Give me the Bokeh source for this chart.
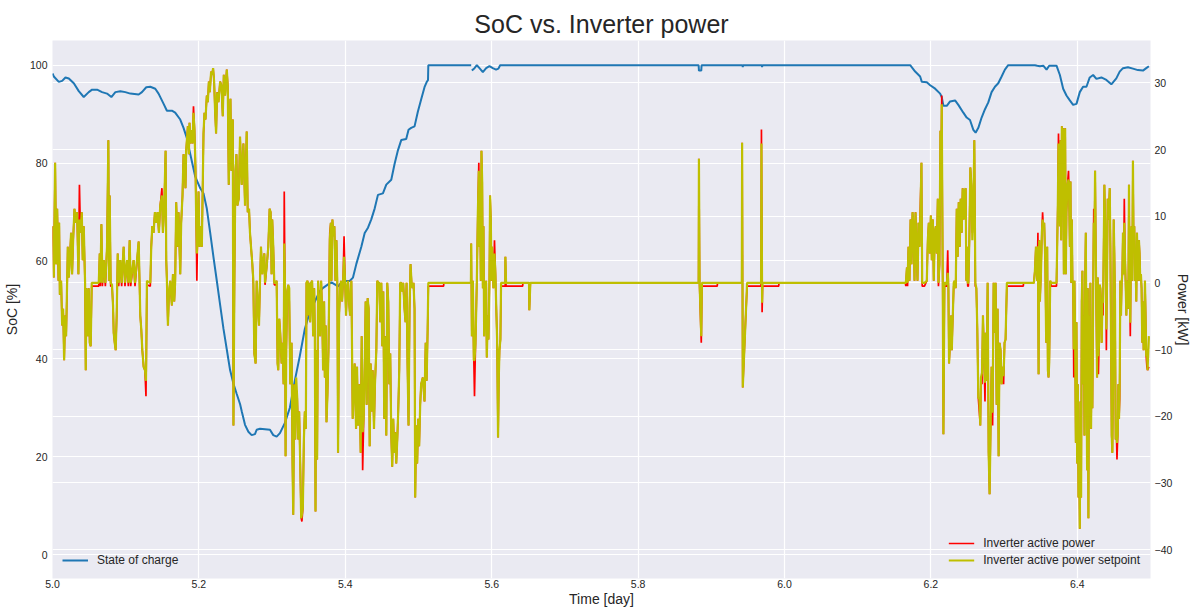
import numpy as np
from bokeh.plotting import figure
from bokeh.models import (Range1d, LinearAxis, FixedTicker, Grid, Legend,
                          LegendItem, ColumnDataSource)
from bokeh.embed import file_html
from bokeh.resources import INLINE

FONT = "Liberation Sans"
TEXT = "#262626"

# ---------------- axis ticks ----------------
x_ticks = [5.0, 5.2, 5.4, 5.6, 5.8, 6.0, 6.2, 6.4]
x_tick_labels = ["5.0", "5.2", "5.4", "5.6", "5.8", "6.0", "6.2", "6.4"]
soc_ticks = [0, 20, 40, 60, 80, 100]
power_ticks = [-40, -30, -20, -10, 0, 10, 20, 30]
power_tick_labels = ["\u221240", "\u221230", "\u221220", "\u221210", "0", "10", "20", "30"]

# ---------------- state of charge [%] ----------------
soc_time = [
    5.0000, 5.0018, 5.0086, 5.0132, 5.0177, 5.0223, 5.0291, 5.0359, 5.0427, 5.0495,
    5.0541, 5.0609, 5.0677, 5.0745, 5.0804, 5.0859, 5.0927, 5.0995, 5.1063, 5.1177,
    5.1222, 5.1281, 5.1336, 5.1404, 5.1449, 5.1518, 5.1563, 5.1631, 5.1676, 5.1745,
    5.1790, 5.1836, 5.1881, 5.1949, 5.2017, 5.2063, 5.2108, 5.2154, 5.2199, 5.2245,
    5.2290, 5.2336, 5.2381, 5.2426, 5.2472, 5.2517, 5.2563, 5.2585, 5.2630, 5.2676,
    5.2721, 5.2766, 5.2789, 5.2835, 5.2903, 5.2971, 5.3016, 5.3062, 5.3107, 5.3175,
    5.3243, 5.3311, 5.3379, 5.3447, 5.3516, 5.3584, 5.3652, 5.3697, 5.3765, 5.3811,
    5.3856, 5.3901, 5.3947, 5.3992, 5.4060, 5.4105, 5.4151, 5.4219, 5.4265, 5.4310,
    5.4355, 5.4401, 5.4446, 5.4514, 5.4560, 5.4628, 5.4673, 5.4719, 5.4764, 5.4832,
    5.4864, 5.4900, 5.4946, 5.4991, 5.5036, 5.5082, 5.5110, 5.5130, 5.5134, 5.5720,
    5.5725, 5.5729, 5.5765, 5.5797, 5.5833, 5.5879, 5.5924, 5.5969, 5.6015, 5.6060,
    5.6092, 5.6115, 5.8827, 5.8831, 5.8863, 5.8867, 5.9426, 5.9430, 5.9434, 5.9690,
    5.9694, 5.9698, 6.1717, 6.1785, 6.1853, 6.1876, 6.1944, 6.1990, 6.2058, 6.2126,
    6.2148, 6.2171, 6.2217, 6.2262, 6.2330, 6.2375, 6.2443, 6.2489, 6.2534, 6.2580,
    6.2611, 6.2648, 6.2693, 6.2739, 6.2784, 6.2829, 6.2875, 6.2920, 6.2966, 6.3011,
    6.3056, 6.3421, 6.3453, 6.3489, 6.3535, 6.3580, 6.3616, 6.3716, 6.3762, 6.3807,
    6.3852, 6.3898, 6.3943, 6.3989, 6.4034, 6.4079, 6.4125, 6.4170, 6.4216, 6.4261,
    6.4329, 6.4397, 6.4465, 6.4533, 6.4579, 6.4624, 6.4692, 6.4760, 6.4828, 6.4897,
    6.4942, 6.4978,
]
soc_pct = [
    98.3, 97.7, 96.6, 96.8, 97.5, 97.3, 96.3, 94.7, 93.5, 94.5,
    95.0, 95.0, 94.5, 94.2, 93.5, 94.5, 94.7, 94.5, 94.2, 94.0,
    94.5, 95.5, 95.6, 95.2, 94.2, 92.1, 90.7, 90.7, 90.3, 88.9,
    87.2, 85.1, 81.9, 77.3, 74.9, 73.8, 70.7, 65.8, 60.8, 55.9,
    51.0, 46.1, 41.9, 37.7, 34.9, 32.8, 30.7, 29.3, 26.5, 25.1,
    24.4, 24.6, 25.5, 25.7, 25.6, 25.5, 24.4, 24.1, 24.8, 26.9,
    30.0, 35.6, 40.6, 46.1, 49.6, 51.7, 53.8, 54.5, 55.2, 55.6,
    55.2, 54.8, 55.6, 55.9, 55.9, 56.6, 59.4, 62.9, 65.7, 66.8,
    68.5, 70.7, 73.5, 73.8, 75.6, 76.6, 79.8, 82.6, 84.7, 84.9,
    86.8, 87.2, 87.5, 90.5, 93.0, 95.5, 96.5, 97.0, 100.0, 100.0,
    float("nan"), 98.9, 99.4, 100.0, 99.4, 98.6, 99.4, 99.8, 99.4, 99.1,
    99.3, 100.0, 100.0, 98.9, 98.9, 100.0, 100.0, 99.6, 100.0, 100.0,
    99.6, 100.0, 100.0, 98.7, 97.7, 96.6, 96.5, 95.9, 95.2, 94.2,
    93.5, 91.7, 91.7, 92.6, 92.8, 91.9, 90.3, 89.3, 88.8, 86.8,
    86.2, 87.2, 89.3, 91.0, 92.4, 94.5, 95.6, 96.3, 97.7, 99.1,
    100.0, 100.0, 99.9, 99.8, 99.9, 99.1, 99.9, 99.9, 98.0, 95.2,
    93.8, 92.8, 91.9, 92.1, 94.5, 95.6, 95.6, 97.5, 98.0, 97.2,
    97.5, 97.0, 96.1, 97.3, 98.7, 99.4, 99.6, 99.3, 99.0, 98.9,
    99.4, 99.8,
]

# ---------------- inverter power [kW], read segment by segment ----------------
time_a = [
    5.0000, 5.0009, 5.0018, 5.0036, 5.0050, 5.0064, 5.0082, 5.0091, 5.0100, 5.0118,
    5.0132, 5.0145, 5.0159, 5.0173, 5.0186, 5.0200, 5.0209, 5.0223, 5.0236, 5.0254,
    5.0268, 5.0282, 5.0300, 5.0318, 5.0336, 5.0354, 5.0368, 5.0382, 5.0400, 5.0413,
    5.0427, 5.0445, 5.0454, 5.0463, 5.0482, 5.0495, 5.0509, 5.0522, 5.0536, 5.0632,
    5.0645, 5.0654, 5.0668, 5.0682, 5.0700, 5.0722, 5.0745, 5.0763, 5.0772, 5.0781,
    5.0795, 5.0813, 5.0827, 5.0836, 5.0850, 5.0863, 5.0877, 5.0891, 5.0904, 5.0927,
    5.0945, 5.0972, 5.0990, 5.1018, 5.1036, 5.1054, 5.1068, 5.1108, 5.1127, 5.1177,
    5.1190, 5.1199, 5.1213, 5.1227, 5.1245, 5.1263, 5.1277, 5.1290, 5.1336, 5.1349,
    5.1363, 5.1381, 5.1399, 5.1417, 5.1436, 5.1454, 5.1472, 5.1495, 5.1508, 5.1527,
    5.1545, 5.1554, 5.1563, 5.1577, 5.1590, 5.1608, 5.1631, 5.1645, 5.1663, 5.1676,
    5.1690, 5.1708, 5.1722, 5.1745, 5.1758, 5.1776, 5.1790, 5.1804, 5.1817, 5.1826,
    5.1836, 5.1849, 5.1863, 5.1872, 5.1885, 5.1899, 5.1913, 5.1926, 5.1940, 5.1954,
    5.1963, 5.1972, 5.1981, 5.1995, 5.2008, 5.2026, 5.2040, 5.2054, 5.2063, 5.2076,
    5.2090, 5.2108, 5.2122, 5.2136, 5.2149, 5.2167, 5.2181, 5.2194, 5.2208, 5.2222,
    5.2235, 5.2249, 5.2267, 5.2290, 5.2308, 5.2326, 5.2340, 5.2358, 5.2381, 5.2394,
    5.2408, 5.2417, 5.2431, 5.2444, 5.2463, 5.2472, 5.2485, 5.2499, 5.2513, 5.2526,
    5.2544,
]
setpoint_a = [
    8.5, 5.4, 0.8, 18.0, 2.8, 11.1, 0.3, 9.0, -1.8, 0.3,
    -6.4, -3.9, -11.6, -4.9, -8.0, 0.3, 5.4, 0.8, 3.4, 7.5,
    1.3, 6.4, 11.1, 9.0, 10.6, 1.3, 9.5, 7.5, 10.6, 3.4,
    8.5, 0.0, -13.1, -0.8, -8.0, -0.8, -9.0, -9.5, 0.0, 0.0,
    4.4, 0.0, 8.8, 0.0, 3.4, 0.0, 5.4, 21.4, 0.3, 13.1,
    0.0, -0.3, -3.4, -7.5, -9.0, -10.1, -4.9, 4.4, 0.0, 3.4,
    0.0, 5.4, 0.0, 3.4, 0.0, 6.4, 0.0, 3.4, 0.0, 6.2,
    0.0, -4.9, -7.0, -10.1, -12.6, -13.1, -14.7, 0.3, 0.0, 5.4,
    8.5, 7.5, 10.6, 9.0, 10.6, 7.5, 11.6, 13.1, 7.5, 11.6,
    19.8, 3.4, 0.3, -6.4, -1.8, 0.3, -3.4, 1.3, -2.8, 0.3,
    12.1, 5.4, 10.6, 1.3, 9.0, 13.1, 19.3, 17.8, 14.2, 19.8,
    21.4, 23.5, 19.3, 24.0, 20.9, 22.9, 20.9, 25.5, 22.9, 16.8,
    9.5, 4.4, 6.4, 13.7, 5.4, 8.5, 5.4, 15.7, 22.4, 25.5,
    24.5, 28.1, 27.1, 30.2, 28.6, 31.7, 31.2, 32.2, 30.2, 25.5,
    22.4, 28.6, 27.1, 30.2, 29.6, 25.0, 31.2, 28.1, 32.0, 29.6,
    14.7, 20.9, 27.6, 16.8, 24.5, -21.4, 0.3, 16.8, 19.3, 11.6,
    12.6,
]
active_a = [
    8.5, 5.4, 0.8, 18.0, 2.8, 11.1, 0.3, 9.0, -1.8, 0.3,
    -6.4, -3.9, -11.6, -4.9, -8.0, -0.5, 5.4, 0.8, 3.4, 7.5,
    1.3, 6.4, 11.1, 9.0, 10.6, 1.3, 14.7, 7.5, 10.6, 3.4,
    8.5, -0.5, -13.1, -0.8, -8.0, -0.8, -9.0, -9.5, -0.5, -0.5,
    4.4, -0.5, 8.8, -0.5, 3.4, -0.5, 5.4, 21.4, 0.3, 13.1,
    -0.5, -0.5, -3.4, -7.5, -9.0, -10.1, -4.9, 4.4, -0.5, 3.4,
    -0.5, 5.4, -0.5, 3.4, -0.5, 6.4, -0.5, 3.4, -0.5, 6.2,
    -0.5, -4.9, -7.0, -10.1, -12.6, -13.1, -17.0, -0.3, -0.5, 5.4,
    8.5, 7.5, 10.6, 9.0, 10.6, 7.5, 11.6, 14.2, 7.5, 11.6,
    19.8, 3.4, 0.3, -6.4, -1.8, 0.3, -3.4, 1.3, -2.8, 0.3,
    12.1, 5.4, 10.6, 1.3, 9.0, 13.1, 19.3, 17.8, 14.2, 19.8,
    21.4, 23.5, 19.3, 24.0, 20.9, 22.9, 20.9, 26.5, 22.9, 16.8,
    9.5, 0.3, 6.4, 13.7, 5.4, 8.5, 5.4, 15.7, 22.4, 25.5,
    24.5, 28.1, 27.1, 30.2, 28.6, 31.7, 31.2, 32.2, 30.2, 25.5,
    22.4, 28.6, 27.1, 30.2, 29.6, 25.0, 31.2, 28.1, 32.0, 29.6,
    14.7, 20.9, 27.6, 16.8, 24.5, -21.4, 0.3, 16.8, 19.3, 11.6,
    12.6,
]

time_b = [
    5.2562, 5.2585, 5.2608, 5.2630, 5.2653, 5.2667, 5.2685, 5.2698, 5.2712, 5.2730,
    5.2744, 5.2757, 5.2775, 5.2789, 5.2803, 5.2821, 5.2835, 5.2848, 5.2866, 5.2880,
    5.2894, 5.2903, 5.2925, 5.2948, 5.2966, 5.2980, 5.2993, 5.3002, 5.3016, 5.3030,
    5.3048, 5.3062, 5.3075, 5.3084, 5.3098, 5.3111, 5.3130, 5.3143, 5.3157, 5.3166,
    5.3175, 5.3184, 5.3193, 5.3207, 5.3220, 5.3234, 5.3248, 5.3266, 5.3279, 5.3289,
    5.3302, 5.3316, 5.3329, 5.3343, 5.3357, 5.3370, 5.3384, 5.3397, 5.3407, 5.3420,
    5.3434, 5.3447, 5.3461, 5.3470, 5.3484, 5.3493, 5.3506, 5.3520, 5.3534, 5.3547,
    5.3561, 5.3575, 5.3584, 5.3593, 5.3602, 5.3615, 5.3629, 5.3643, 5.3656, 5.3670,
    5.3683, 5.3697, 5.3711, 5.3720, 5.3733, 5.3743, 5.3756, 5.3770, 5.3788, 5.3802,
    5.3811, 5.3824, 5.3838, 5.3851, 5.3865, 5.3879, 5.3892, 5.3901, 5.3915, 5.3929,
    5.3942, 5.3956, 5.3970, 5.3983, 5.3997, 5.4010, 5.4024, 5.4038, 5.4051, 5.4065,
    5.4083, 5.4101, 5.4115, 5.4128, 5.4147, 5.4160, 5.4174, 5.4192, 5.4210, 5.4224,
    5.4237, 5.4251, 5.4265, 5.4278, 5.4292, 5.4305, 5.4319, 5.4333, 5.4346, 5.4360,
    5.4374, 5.4392, 5.4405, 5.4424, 5.4437, 5.4451, 5.4464, 5.4478, 5.4492, 5.4505,
    5.4519, 5.4532, 5.4546, 5.4560, 5.4573, 5.4587, 5.4601, 5.4614, 5.4628, 5.4641,
    5.4655, 5.4669, 5.4682, 5.4696, 5.4710, 5.4723, 5.4737, 5.4750, 5.4764, 5.4778,
    5.4791, 5.4809, 5.4823, 5.4837, 5.4850, 5.4864, 5.4878, 5.4891, 5.4905, 5.4918,
    5.4932, 5.4946, 5.4955, 5.4968, 5.4982, 5.4996, 5.5009, 5.5023, 5.5036, 5.5059,
    5.5082,
]
setpoint_b = [
    21.9, 14.7, 20.9, 11.6, 22.7, 10.6, 11.1, 7.5, 5.4, 2.8,
    0.3, -10.6, -12.1, 0.3, -2.8, -6.4, 0.3, 5.4, 1.3, 3.4,
    4.4, 0.0, 2.3, 5.4, 11.1, 10.6, 1.3, 9.5, 5.4, 0.0,
    0.0, 0.3, -12.1, -13.1, -5.4, -7.5, -12.1, -9.0, -15.2, 5.9,
    0.0, -26.0, -10.1, -1.3, -0.3, -0.8, -15.2, -9.0, -27.1, -34.8,
    -15.2, -23.5, -14.2, -17.3, -23.5, -19.3, -27.1, -35.3, -34.8, -33.8,
    -23.5, -19.3, -21.9, 0.0, 0.3, -4.9, 0.0, -5.9, 0.0, 0.3,
    -8.0, -0.8, -8.0, -34.3, -10.1, -26.5, 0.3, -3.9, -8.0, 0.3,
    -3.9, -13.1, -2.8, -14.2, -6.4, -20.9, -16.8, -10.1, 6.4, 9.0,
    0.3, 9.5, 7.0, 8.5, 0.3, 6.4, -0.8, -25.5, -4.9, -0.8,
    0.3, -2.8, 0.3, 3.9, 0.3, -4.9, -0.8, 0.3, -2.8, -4.9,
    0.3, -20.4, -16.2, -12.1, -21.9, -12.6, -21.4, -15.2, -25.5, -8.0,
    -22.4, -20.4, -12.6, -2.8, -18.3, -2.3, -3.9, -24.5, -12.1, -19.3,
    -13.1, -21.9, -15.2, -10.1, 0.3, 0.0, 0.0, -5.9, 0.0, -9.5,
    -1.3, -20.4, -8.0, -22.9, 0.0, -2.8, -15.2, -10.6, -22.9, -27.6,
    -20.4, -25.5, -22.4, -27.1, -23.5, -19.3, -13.1, 0.0, 0.0, -1.3,
    0.0, -3.9, -5.9, 0.0, -12.1, -21.4, -3.9, 2.8, 0.0, -0.8,
    0.0, -3.9, -32.2, -21.4, -27.1, -20.4, -24.5, -18.3, -15.2, -14.2,
    -17.8,
]
active_b = [
    21.9, 14.7, 20.9, 11.6, 22.7, 10.6, 11.1, 7.5, 5.4, 2.8,
    -0.3, -10.6, -12.1, 0.3, -2.8, -6.4, 0.3, 5.4, 1.3, 3.4,
    4.4, -0.3, 2.3, 5.4, 11.1, 10.6, 1.3, 9.5, 5.4, -0.3,
    -0.3, 0.3, -12.1, -13.1, -5.4, -7.5, -12.1, -9.0, -15.2, 13.7,
    0.0, -26.0, -10.1, -1.3, -0.3, -2.8, -15.2, -9.0, -27.1, -34.8,
    -15.2, -23.5, -16.0, -17.3, -23.5, -19.3, -27.1, -35.3, -35.8, -33.8,
    -23.5, -19.3, -21.9, 0.0, 0.3, -4.9, 0.0, -5.9, 0.0, 0.3,
    -8.0, -0.8, -8.0, -34.3, -10.1, -26.5, 0.3, -3.9, -8.0, 0.3,
    -3.9, -13.1, -2.8, -14.2, -6.4, -20.9, -16.8, -10.1, 7.5, 9.0,
    0.3, 9.5, 7.0, 8.5, 0.3, 6.4, -0.8, -25.5, -4.9, -0.8,
    0.3, -2.8, 0.3, 7.0, 0.3, -4.9, -0.8, 0.3, -2.8, -4.9,
    0.3, -20.4, -16.2, -12.1, -21.9, -12.6, -21.4, -15.2, -25.5, -8.0,
    -28.1, -20.4, -12.6, -2.8, -18.3, -2.3, -3.9, -24.5, -12.1, -19.3,
    -13.1, -21.9, -15.2, -10.1, 0.3, 0.0, 0.0, -5.9, 0.0, -9.5,
    -1.3, -20.4, -8.0, -22.9, 0.0, -2.8, -15.2, -10.6, -22.9, -27.6,
    -20.4, -25.5, -22.4, -27.1, -23.5, -19.3, -13.1, 0.0, 0.0, -1.3,
    0.0, -3.9, -5.9, 0.0, -12.1, -21.4, -3.9, 2.8, 0.0, -0.8,
    0.0, -3.9, -32.2, -21.4, -27.1, -20.4, -24.5, -18.3, -15.2, -14.2,
    -17.8,
]

time_c = [
    5.5098, 5.5111, 5.5125, 5.5134, 5.5343, 5.5346, 5.5716, 5.5720, 5.5729, 5.5742,
    5.5756, 5.5765, 5.5779, 5.5797, 5.5811, 5.5824, 5.5833, 5.5842, 5.5851, 5.5860,
    5.5870, 5.5879, 5.5888, 5.5897, 5.5906, 5.5915, 5.5924, 5.5933, 5.5947, 5.5956,
    5.5969, 5.5978, 5.5988, 5.5997, 5.6006, 5.6024, 5.6038, 5.6051, 5.6060, 5.6074,
    5.6087, 5.6097, 5.6106, 5.6119, 5.6128, 5.6185, 5.6187, 5.6196, 5.6423, 5.6426,
    5.6510, 5.6514, 5.6528,
]
setpoint_c = [
    -9.0, -14.7, -7.0, 0.0, 0.0, 0.0, 0.0, 5.9, -8.0, 0.3,
    -11.6, -11.6, -9.0, 0.3, 10.6, 16.8, 5.4, 11.6, 0.3, 19.8,
    15.2, -0.8, 8.5, -8.0, -2.8, -5.9, 0.3, -11.2, -4.9, -8.5,
    0.3, 13.1, 9.5, 0.3, 5.4, -0.8, 4.4, 1.3, -2.8, -8.5,
    -23.2, -14.2, -10.1, -8.5, 0.0, 0.0, 3.9, 0.0, 0.0, 0.0,
    0.0, -4.1, 0.0,
]
active_c = [
    -9.0, -14.7, -7.0, -0.5, -0.5, 0.0, 0.0, 5.9, -8.0, 0.3,
    -11.6, -17.0, -9.0, 0.3, 10.6, 18.0, 5.4, 11.6, 0.3, 19.8,
    15.2, -0.8, 8.5, -8.0, -2.8, -5.9, 0.3, -11.2, -4.9, -8.5,
    0.3, 13.1, 9.5, 0.3, 5.4, -0.8, 6.4, 1.3, -2.8, -8.5,
    -23.2, -14.2, -10.1, -8.5, -0.5, -0.5, 3.9, -0.5, -0.5, 0.0,
    0.0, -4.1, 0.0,
]

time_d = [
    5.8827, 5.8831, 5.8840, 5.8863, 5.8872, 5.9081, 5.9085, 5.9417, 5.9421, 5.9430,
    5.9467, 5.9489, 5.9680, 5.9685, 5.9694, 5.9700, 5.9921, 5.9925,
]
setpoint_d = [
    0.0, 18.6, 0.0, -8.0, 0.0, 0.0, 0.0, 0.0, 21.0, -15.7,
    -5.9, 0.0, 0.0, 20.9, -3.0, 0.0, 0.0, 0.0,
]
active_d = [
    0.0, 18.6, -0.5, -9.0, -0.5, -0.5, 0.0, 0.0, 21.0, -15.7,
    -5.9, -0.5, -0.5, 23.0, -4.4, -0.5, -0.5, 0.0,
]

time_e = [
    6.1650, 6.1658, 6.1672, 6.1681, 6.1694, 6.1708, 6.1722, 6.1735, 6.1749, 6.1762,
    6.1776, 6.1790, 6.1803, 6.1817, 6.1831, 6.1844, 6.1858, 6.1871, 6.1881, 6.1912,
    6.1944, 6.1958, 6.1971, 6.1985, 6.1999, 6.2012, 6.2026, 6.2039, 6.2053, 6.2067,
    6.2080, 6.2094, 6.2103, 6.2117, 6.2130, 6.2139, 6.2148, 6.2162, 6.2171, 6.2185,
    6.2203, 6.2217, 6.2230, 6.2239, 6.2248, 6.2262, 6.2276, 6.2285, 6.2298, 6.2312,
    6.2325, 6.2339, 6.2353, 6.2366, 6.2380, 6.2394, 6.2407, 6.2421, 6.2434, 6.2448,
    6.2462, 6.2475, 6.2484, 6.2493, 6.2503, 6.2512, 6.2525, 6.2539, 6.2552, 6.2566,
    6.2580, 6.2593, 6.2607, 6.2621, 6.2634, 6.2648, 6.2661, 6.2675, 6.2684, 6.2698,
    6.2711, 6.2725, 6.2739, 6.2748, 6.2761, 6.2775, 6.2789, 6.2802, 6.2816, 6.2829,
    6.2843, 6.2857, 6.2870, 6.2884, 6.2898, 6.2911, 6.2925, 6.2938, 6.2952, 6.2966,
    6.2979, 6.2993, 6.3006, 6.3020, 6.3038,
]
setpoint_e = [
    0.0, 0.0, 2.3, 0.0, 5.4, 0.3, 9.5, 2.8, 10.6, 8.5,
    0.3, 10.6, 5.4, 0.3, 9.0, 5.4, 11.1, 18.0, 0.0, 0.0,
    0.3, 6.4, 9.0, 4.4, 10.1, 3.4, 9.5, 0.3, 7.5, 8.5,
    4.4, 12.6, 0.0, 2.8, 22.8, 14.2, 26.8, 0.0, -22.7, 0.0,
    0.0, -0.3, 1.5, -0.8, -12.1, -9.0, -4.9, -10.1, -5.4, 0.0,
    0.3, -0.8, 11.1, 3.9, 12.1, 5.4, 12.6, 7.5, 14.2, 9.5,
    13.7, 14.2, 0.3, 5.4, 0.0, 0.0, 6.4, 17.3, 14.7, 6.4,
    10.6, 21.4, 0.0, -0.8, -7.0, -17.3, -17.3, -21.4, -14.2, -13.5,
    -4.9, -10.1, -15.0, -7.5, -14.7, 0.0, -25.5, -31.7, -21.4, -12.6,
    -19.5, 0.0, -7.5, 0.0, -18.3, -3.9, -26.0, -9.0, -10.1, -15.2,
    -12.6, -14.0, -9.0, -8.5, 0.0,
]
active_e = [
    0.0, -0.5, 2.3, -0.5, 5.4, 0.3, 9.5, 2.8, 10.6, 8.5,
    0.3, 10.6, 5.4, 0.3, 9.0, 5.4, 12.6, 18.0, -0.5, -0.5,
    0.3, 6.4, 9.0, 4.4, 10.1, 3.4, 9.5, 0.3, 7.5, 8.5,
    4.4, 12.6, -0.5, 2.8, 22.8, 14.2, 28.1, -0.5, -22.7, -0.5,
    -0.5, -0.5, 4.9, -0.8, -12.1, -9.0, -4.9, -10.1, -5.4, -0.5,
    0.3, -0.8, 11.1, 3.9, 12.1, 5.4, 12.6, 7.5, 14.2, 9.5,
    13.7, 14.2, 0.3, 5.4, -0.5, -0.5, 6.4, 17.3, 14.7, 7.5,
    10.6, 21.4, -0.5, -0.8, -7.0, -17.3, -19.3, -21.4, -14.2, -15.2,
    -4.9, -10.1, -17.8, -7.5, -14.7, 0.0, -25.5, -31.7, -21.4, -12.6,
    -21.4, 0.0, -7.5, 0.0, -18.3, -3.9, -26.0, -9.0, -10.1, -15.2,
    -12.6, -15.2, -9.0, -8.5, -0.5,
]

time_f = [
    6.3262, 6.3266, 6.3407, 6.3421, 6.3435, 6.3453, 6.3462, 6.3471, 6.3480, 6.3489,
    6.3503, 6.3516, 6.3526, 6.3535, 6.3548, 6.3562, 6.3575, 6.3589, 6.3598, 6.3607,
    6.3616, 6.3630, 6.3644, 6.3716, 6.3725, 6.3734, 6.3743, 6.3753, 6.3762, 6.3771,
    6.3780, 6.3789, 6.3798, 6.3807, 6.3816, 6.3825, 6.3834, 6.3843, 6.3852, 6.3866,
    6.3880, 6.3889, 6.3898, 6.3907, 6.3916, 6.3925, 6.3934, 6.3943, 6.3952, 6.3961,
    6.3970, 6.3980, 6.3989, 6.3998, 6.4007, 6.4016, 6.4025, 6.4034, 6.4043, 6.4052,
    6.4061, 6.4070, 6.4079, 6.4088, 6.4098, 6.4107, 6.4116, 6.4125, 6.4134, 6.4143,
    6.4152, 6.4161, 6.4170, 6.4179, 6.4188, 6.4197, 6.4206, 6.4216, 6.4225, 6.4234,
    6.4243, 6.4252, 6.4261, 6.4270, 6.4279, 6.4288, 6.4297, 6.4306, 6.4315, 6.4324,
    6.4333, 6.4343, 6.4352, 6.4361, 6.4370, 6.4379, 6.4388, 6.4397, 6.4406, 6.4415,
    6.4424, 6.4434, 6.4443, 6.4452, 6.4461, 6.4470, 6.4479, 6.4488, 6.4497, 6.4506,
    6.4515, 6.4524, 6.4533, 6.4542, 6.4552, 6.4561, 6.4570, 6.4579, 6.4588, 6.4597,
    6.4606, 6.4615, 6.4624, 6.4633, 6.4642, 6.4651, 6.4661, 6.4670, 6.4679, 6.4688,
    6.4697, 6.4706, 6.4715, 6.4724, 6.4733, 6.4742, 6.4751, 6.4760, 6.4769, 6.4779,
    6.4788, 6.4797, 6.4806, 6.4815, 6.4824, 6.4833, 6.4842, 6.4851, 6.4860, 6.4869,
    6.4878, 6.4888, 6.4897, 6.4906, 6.4915, 6.4924, 6.4933, 6.4942, 6.4951, 6.4960,
    6.4978,
]
setpoint_f = [
    0.0, 0.0, 0.0, 1.8, 5.4, 0.3, 5.5, -13.7, 6.4, -2.8,
    1.3, 7.5, 9.5, 8.5, 9.0, 3.4, -9.0, 5.4, -13.1, -14.2,
    -12.1, 0.3, 0.0, 0.0, 5.4, 11.6, 20.9, 15.7, 8.5, 21.4,
    6.4, 23.5, 14.7, 23.2, 1.3, 15.7, 23.2, 1.3, 10.6, 14.7,
    15.5, 12.6, 5.4, 15.2, 0.0, 9.5, 0.3, 0.0, -10.0, 0.3,
    -8.0, -24.0, -5.9, -27.1, -15.2, -32.2, -25.5, -36.9, -17.8, -32.2,
    -2.8, 1.8, -15.2, -4.9, -22.9, 0.3, 7.5, -10.1, -28.1, -0.8,
    -35.3, -4.9, -17.8, 0.0, -21.9, -10.1, -18.8, -2.8, 9.0, 5.9,
    16.8, 5.4, -4.9, -14.2, 0.8, -11.0, -9.0, -0.3, -0.8, -2.8,
    -9.0, -2.8, -3.0, 5.4, 14.7, 9.5, 5.4, -7.0, 0.3, 12.6,
    9.5, 11.6, 14.2, 5.4, -9.0, -22.9, -25.5, -15.2, 9.5, 4.4,
    -2.8, -23.5, -21.4, -24.0, -22.9, -15.2, -20.4, -15.0, 0.3, -4.9,
    0.0, 1.3, 7.5, 1.3, 9.0, 4.4, -0.3, -4.9, 0.0, 0.3,
    -3.9, 14.7, 0.3, -6.0, 5.4, 8.5, 0.3, 18.3, 5.4, 8.5,
    0.3, 2.8, -2.8, 7.5, 3.4, 0.3, 6.4, 4.4, 0.3, 1.3,
    -0.8, -9.0, -2.8, -10.1, -9.0, 0.3, -4.9, -11.1, -10.0, -13.1,
    -8.0,
]
active_f = [
    -0.5, 0.0, 0.0, 1.8, 5.4, 0.3, 7.5, -13.7, 6.4, -2.8,
    1.3, 7.5, 10.6, 8.5, 9.0, 3.4, -9.0, 5.4, -13.1, -14.2,
    -12.1, 0.3, -0.5, -0.5, 5.4, 11.6, 22.4, 15.7, 8.5, 21.4,
    6.4, 23.5, 14.7, 23.2, 1.3, 15.7, 23.2, 1.3, 10.6, 14.7,
    16.8, 12.6, 5.4, 15.2, 0.0, 9.5, 0.3, -0.5, -14.2, 0.3,
    -8.0, -24.0, -5.9, -27.1, -15.2, -32.2, -25.5, -36.9, -17.8, -32.2,
    -2.8, 1.8, -15.2, -4.9, -22.9, 0.3, 7.5, -10.1, -28.1, -0.8,
    -35.3, -4.9, -17.8, 0.0, -21.9, -10.1, -18.8, -2.8, 11.1, 5.9,
    16.8, 5.4, -4.9, -14.2, 0.8, -13.7, -9.0, -0.3, -0.8, -2.8,
    -9.0, -2.8, -4.9, 5.4, 14.7, 9.5, 5.4, -10.1, 0.3, 12.6,
    9.5, 11.6, 14.2, 5.4, -9.0, -22.9, -25.5, -15.2, 9.5, 4.4,
    -2.8, -23.5, -21.4, -26.5, -22.9, -15.2, -20.4, -17.3, 0.3, -4.9,
    0.0, 1.3, 7.5, 1.3, 12.6, 4.4, -0.3, -4.9, 0.0, 0.3,
    -3.9, 14.7, 0.3, -8.0, 5.4, 8.5, 0.3, 18.3, 5.4, 8.5,
    0.3, 2.8, -2.8, 7.5, 3.4, 0.3, 6.4, 4.4, 0.3, 1.3,
    -0.8, -9.0, -2.8, -10.1, -9.0, 0.3, -4.9, -11.1, -12.6, -13.1,
    -12.6,
]

power_time = time_a + time_b + time_c + time_d + time_e + time_f
setpoint_kw = setpoint_a + setpoint_b + setpoint_c + setpoint_d + setpoint_e + setpoint_f
active_kw = active_a + active_b + active_c + active_d + active_e + active_f
n = min(len(power_time), len(setpoint_kw), len(active_kw))
m = min(len(soc_time), len(soc_pct))

soc_src = ColumnDataSource(dict(t=np.array(soc_time[:m], dtype=float),
                                soc=np.array(soc_pct[:m], dtype=float)))
pw_src = ColumnDataSource(dict(t=np.array(power_time[:n], dtype=float),
                               sp=np.array(setpoint_kw[:n], dtype=float),
                               act=np.array(active_kw[:n], dtype=float)))

# ---------------- figure ----------------
p = figure(width=1194, height=609, x_range=Range1d(5.0, 6.5),
           y_range=Range1d(-4.9, 105.05), output_backend="svg",
           toolbar_location=None, title="SoC vs. Inverter power",
           min_border_left=52, min_border_right=43, min_border_top=40,
           min_border_bottom=30)
p.extra_y_ranges = {"power": Range1d(-44.35, 36.35)}

p.background_fill_color = "#EAEAF2"
p.border_fill_color = "white"
p.outline_line_color = None

p.title.align = "center"
p.title.text_font = FONT
p.title.text_font_size = "25px"
p.title.text_font_style = "normal"
p.title.text_color = TEXT
p.title.standoff = 5

right_axis = LinearAxis(y_range_name="power", axis_label="Power [kW]")
p.add_layout(right_axis, "right")

p.xaxis.ticker = FixedTicker(ticks=x_ticks)
p.xaxis.major_label_overrides = dict(zip(x_ticks, x_tick_labels))
p.xaxis.axis_label = "Time [day]"
p.yaxis[0].ticker = FixedTicker(ticks=soc_ticks)
p.yaxis[0].axis_label = "SoC [%]"
right_axis.ticker = FixedTicker(ticks=power_ticks)
right_axis.major_label_overrides = dict(zip(power_ticks, power_tick_labels))

for ax in [p.xaxis[0], p.yaxis[0], right_axis]:
    ax.axis_line_color = None
    ax.major_tick_line_color = None
    ax.minor_tick_line_color = None
    ax.major_tick_out = 0
    ax.major_tick_in = 0
    ax.minor_tick_out = 0
    ax.minor_tick_in = 0
    ax.major_label_text_font = FONT
    ax.major_label_text_font_size = "10.5px"
    ax.major_label_text_color = TEXT
    ax.axis_label_text_font = FONT
    ax.axis_label_text_font_size = "14px"
    ax.axis_label_text_font_style = "normal"
    ax.axis_label_text_color = TEXT

p.xaxis[0].major_label_standoff = 1
p.xaxis[0].axis_label_standoff = 0
p.yaxis[0].major_label_standoff = 5
p.yaxis[0].axis_label_standoff = 7
right_axis.major_label_standoff = 4
right_axis.axis_label_standoff = 0

p.xgrid.ticker = FixedTicker(ticks=x_ticks)
p.ygrid.ticker = FixedTicker(ticks=soc_ticks)
for g in [p.xgrid[0], p.ygrid[0]]:
    g.grid_line_color = "white"
    g.grid_line_width = 1.2
power_grid = Grid(dimension=1, ticker=FixedTicker(ticks=power_ticks),
                  y_range_name="power", grid_line_color="white",
                  grid_line_width=1.2)
p.add_layout(power_grid)

soc_r = p.line("t", "soc", source=soc_src, line_color="#1f77b4", line_width=2)
act_r = p.line("t", "act", source=pw_src, line_color="#ff0000", line_width=1.7,
               y_range_name="power")
sp_r = p.line("t", "sp", source=pw_src, line_color="#bfbf00", line_width=2.2,
              y_range_name="power")


def style_legend(leg):
    leg.background_fill_alpha = 0
    leg.border_line_alpha = 0
    leg.label_text_font = FONT
    leg.label_text_font_size = "12px"
    leg.label_text_color = TEXT
    leg.glyph_width = 26
    leg.glyph_height = 16
    leg.label_height = 16
    leg.label_standoff = 9
    leg.spacing = 1
    leg.padding = 5
    leg.margin = 5


leg_soc = Legend(items=[LegendItem(label="State of charge", renderers=[soc_r])],
                 location="bottom_left")
leg_pow = Legend(items=[LegendItem(label="Inverter active power", renderers=[act_r]),
                        LegendItem(label="Inverter active power setpoint", renderers=[sp_r])],
                 location="bottom_right")
style_legend(leg_soc)
style_legend(leg_pow)
p.add_layout(leg_soc)
p.add_layout(leg_pow)

open("out.html", "w").write(file_html(p, INLINE, title="SoC vs. Inverter power"))
